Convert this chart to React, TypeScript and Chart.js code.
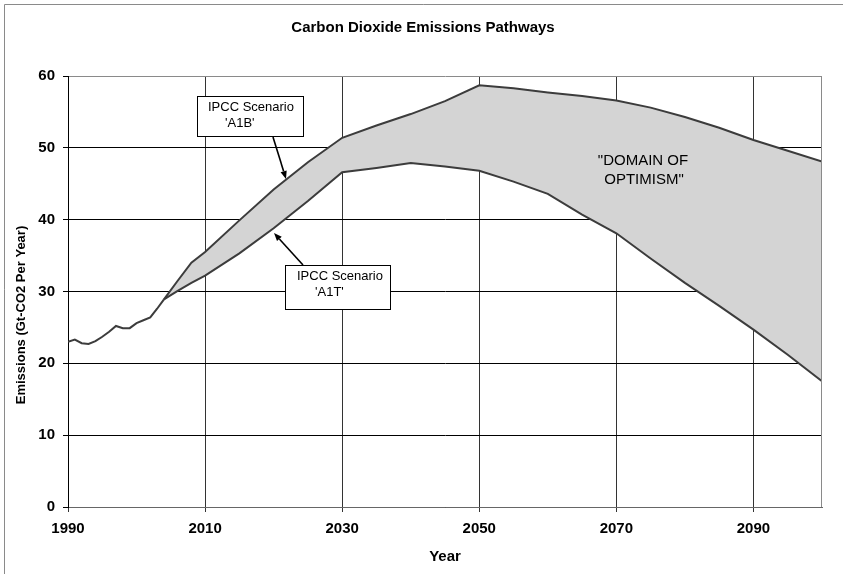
import React, { useEffect, useRef } from "react";
import { Chart, registerables } from "chart.js";

Chart.register(...registerables);

const TITLE = "Carbon Dioxide Emissions Pathways";
const X_TITLE = "Year";
const Y_TITLE = "Emissions (Gt-CO2 Per Year)";

const X_TICKS = [1990, 2010, 2030, 2050, 2070, 2090];
const Y_TICKS = [0, 10, 20, 30, 40, 50, 60];

const HIST_YEARS = [1990, 1991, 1992, 1993, 1994, 1995, 1996, 1997, 1998, 1999, 2000, 2001, 2002, 2003, 2004];
const HIST_VALUES = [23.0, 23.3, 22.8, 22.7, 23.1, 23.7, 24.4, 25.2, 24.9, 24.9, 25.6, 26.0, 26.4, 27.6, 28.9];

const SCEN_YEARS = [2004, 2006, 2008, 2010, 2015, 2020, 2025, 2030, 2035, 2040, 2045, 2050, 2055, 2060, 2065, 2070, 2075, 2080, 2085, 2090, 2095, 2100];
const A1B_VALUES = [28.9, 31.5, 34.0, 35.5, 39.9, 44.2, 48.0, 51.4, 53.1, 54.7, 56.5, 58.7, 58.3, 57.7, 57.2, 56.6, 55.6, 54.3, 52.8, 51.1, 49.6, 48.1];
const A1T_VALUES = [28.9, 30.1, 31.2, 32.2, 35.3, 38.8, 42.6, 46.6, 47.2, 47.9, 47.4, 46.8, 45.3, 43.6, 40.7, 38.1, 34.6, 31.2, 28.0, 24.7, 21.2, 17.5];

const LABEL_A1B = ["IPCC Scenario", "'A1B'"];
const LABEL_A1T = ["IPCC Scenario", "'A1T'"];
const LABEL_DOMAIN = ["\"DOMAIN OF", "OPTIMISM\""];

const FONT = "'Liberation Sans', Arial, sans-serif";
const LINE_COLOR = "#3c3c3c";
const FILL_COLOR = "#D4D4D4";

function arrow(ctx: CanvasRenderingContext2D, x1: number, y1: number, x2: number, y2: number) {
  ctx.save();
  ctx.strokeStyle = "#000";
  ctx.fillStyle = "#000";
  ctx.lineWidth = 1.6;
  const ang = Math.atan2(y2 - y1, x2 - x1);
  const head = 8;
  const bx = x2 - Math.cos(ang) * head;
  const by = y2 - Math.sin(ang) * head;
  ctx.beginPath();
  ctx.moveTo(x1, y1);
  ctx.lineTo(bx, by);
  ctx.stroke();
  ctx.beginPath();
  ctx.moveTo(x2, y2);
  ctx.lineTo(bx + Math.cos(ang + Math.PI / 2) * 3.2, by + Math.sin(ang + Math.PI / 2) * 3.2);
  ctx.lineTo(bx + Math.cos(ang - Math.PI / 2) * 3.2, by + Math.sin(ang - Math.PI / 2) * 3.2);
  ctx.closePath();
  ctx.fill();
  ctx.restore();
}

function textBox(ctx: CanvasRenderingContext2D, x: number, y: number, w: number, h: number, lines: string[], xs: number[], ys: number[]) {
  ctx.save();
  ctx.fillStyle = "#fff";
  ctx.fillRect(x, y, w, h);
  ctx.strokeStyle = "#000";
  ctx.lineWidth = 1;
  ctx.strokeRect(x + 0.5, y + 0.5, w, h);
  ctx.fillStyle = "#000";
  ctx.font = `13px ${FONT}`;
  ctx.textAlign = "left";
  ctx.textBaseline = "alphabetic";
  lines.forEach((t, i) => ctx.fillText(t, xs[i], ys[i]));
  ctx.restore();
}

const decorPlugin = {
  id: "decor",
  beforeDraw(chart: any) {
    const ctx = chart.ctx as CanvasRenderingContext2D;
    ctx.save();
    ctx.fillStyle = "#fff";
    ctx.fillRect(0, 0, chart.width, chart.height);
    ctx.strokeStyle = "#8a8a8a";
    ctx.lineWidth = 1;
    ctx.beginPath();
    ctx.moveTo(4.5, chart.height);
    ctx.lineTo(4.5, 4.5);
    ctx.lineTo(chart.width, 4.5);
    ctx.stroke();
    ctx.restore();
  },
  afterDraw(chart: any) {
    const ctx = chart.ctx as CanvasRenderingContext2D;
    const a = chart.chartArea;
    ctx.save();
    // plot area right border
    ctx.strokeStyle = "#8a8a8a";
    ctx.lineWidth = 1;
    ctx.beginPath();
    ctx.moveTo(Math.round(a.right) - 0.5, a.top);
    ctx.lineTo(Math.round(a.right) - 0.5, a.bottom);
    ctx.stroke();

    // titles
    ctx.fillStyle = "#000";
    ctx.font = `bold 15px ${FONT}`;
    ctx.textAlign = "center";
    ctx.textBaseline = "middle";
    ctx.fillText(TITLE, 423, 28);
    ctx.fillText(X_TITLE, 445, 557);
    ctx.save();
    ctx.translate(21, 315);
    ctx.rotate(-Math.PI / 2);
    ctx.font = `bold 13px ${FONT}`;
    ctx.fillText(Y_TITLE, 0, 0);
    ctx.restore();

    // domain label
    ctx.fillStyle = FILL_COLOR;
    ctx.fillRect(597, 149, 93, 50);
    ctx.fillStyle = "#000";
    ctx.font = `15px ${FONT}`;
    ctx.textAlign = "center";
    ctx.textBaseline = "alphabetic";
    ctx.fillText(LABEL_DOMAIN[0], 643, 165);
    ctx.fillText(LABEL_DOMAIN[1], 644, 184);
    ctx.restore();

    textBox(ctx, 197, 96, 106, 40, LABEL_A1B, [208, 225], [111, 127]);
    arrow(ctx, 273, 137, 286, 179);
    textBox(ctx, 285, 265, 105, 44, LABEL_A1T, [297, 315], [280, 296]);
    arrow(ctx, 303, 265, 274, 233);
  },
};

export default function App() {
  const ref = useRef<HTMLCanvasElement | null>(null);
  useEffect(() => {
    document.body.style.margin = "0";
    if (!ref.current) return;
    const pts = (xs: number[], ys: number[]) => xs.map((x, i) => ({ x, y: ys[i] }));
    const chart = new Chart(ref.current, {
      type: "line",
      data: {
        datasets: [
          {
            label: "IPCC Scenario 'A1B'",
            data: pts(SCEN_YEARS, A1B_VALUES),
            borderColor: LINE_COLOR,
            borderWidth: 2,
            backgroundColor: FILL_COLOR,
            fill: "+1",
            pointRadius: 0,
            tension: 0,
          },
          {
            label: "IPCC Scenario 'A1T'",
            data: pts(SCEN_YEARS, A1T_VALUES),
            borderColor: LINE_COLOR,
            borderWidth: 2,
            fill: false,
            pointRadius: 0,
            tension: 0,
          },
          {
            label: "Historical",
            data: pts(HIST_YEARS, HIST_VALUES),
            borderColor: LINE_COLOR,
            borderWidth: 2,
            fill: false,
            pointRadius: 0,
            tension: 0,
          },
        ],
      },
      options: {
        responsive: false,
        animation: false,
        layout: { padding: { top: 76, right: 21, bottom: 0, left: 0 } },
        plugins: {
          legend: { display: false },
          title: { display: false },
          tooltip: { enabled: false },
          filler: { drawTime: "beforeDatasetsDraw" },
        } as any,
        scales: {
          x: {
            type: "linear",
            min: 1990,
            max: 2100,
            z: 1,
            afterBuildTicks: (s: any) => {
              s.ticks = X_TICKS.map((v) => ({ value: v }));
            },
            afterFit: (s: any) => {
              s.height = 67;
            },
            grid: { color: "#333", lineWidth: 1, tickLength: 5, tickColor: "#333", drawTicks: true },
            border: { color: "#666", width: 1 },
            ticks: {
              color: "#000",
              font: { family: FONT, size: 15, weight: "bold" },
              padding: 8,
              maxRotation: 0,
              autoSkip: false,
              callback: (v: any) => String(v),
            },
          },
          y: {
            type: "linear",
            min: 0,
            max: 60,
            z: 1,
            afterBuildTicks: (s: any) => {
              s.ticks = Y_TICKS.map((v) => ({ value: v }));
            },
            afterFit: (s: any) => {
              s.width = 68;
            },
            grid: {
              color: (c: any) => (c.tick && c.tick.value === 60 ? "#8a8a8a" : "#000"),
              lineWidth: 1,
              tickLength: 5,
              tickColor: "#000",
              drawTicks: true,
            },
            border: { color: "#000", width: 1 },
            ticks: {
              color: "#000",
              font: { family: FONT, size: 15, weight: "bold" },
              padding: 8,
              autoSkip: false,
              callback: (v: any) => String(v),
            },
          },
        },
      },
      plugins: [decorPlugin],
    });
    return () => chart.destroy();
  }, []);
  return <canvas ref={ref} width={843} height={574} style={{ display: "block", width: 843, height: 574 }} />;
}
